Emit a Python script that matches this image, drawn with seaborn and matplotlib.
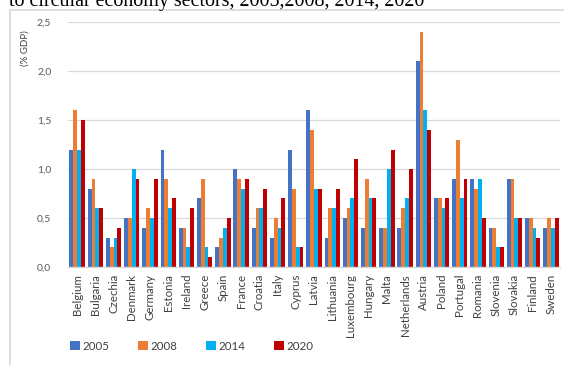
import numpy as np
import pandas as pd
import seaborn as sns
import matplotlib.pyplot as plt
from matplotlib.patches import Rectangle
from matplotlib.ticker import FuncFormatter

countries = ["Belgium", "Bulgaria", "Czechia", "Denmark", "Germany", "Estonia",
             "Ireland", "Greece", "Spain", "France", "Croatia", "Italy", "Cyprus",
             "Latvia", "Lithuania", "Luxembourg", "Hungary", "Malta", "Netherlands",
             "Austria", "Poland", "Portugal", "Romania", "Slovenia", "Slovakia",
             "Finland", "Sweden"]
years = ["2005", "2008", "2014", "2020"]
v2005 = [1.2, 0.8, 0.3, 0.5, 0.4, 1.2, 0.4, 0.7, 0.2, 1.0, 0.4, 0.3, 1.2, 1.6,
         0.3, 0.5, 0.4, 0.4, 0.4, 2.1, 0.7, 0.9, 0.9, 0.4, 0.9, 0.5, 0.4]
v2008 = [1.6, 0.9, 0.2, 0.5, 0.6, 0.9, 0.4, 0.9, 0.3, 0.9, 0.6, 0.5, 0.8, 1.4,
         0.6, 0.6, 0.9, 0.4, 0.6, 2.4, 0.7, 1.3, 0.8, 0.4, 0.9, 0.5, 0.5]
v2014 = [1.2, 0.6, 0.3, 1.0, 0.5, 0.6, 0.2, 0.2, 0.4, 0.8, 0.6, 0.4, 0.2, 0.8,
         0.6, 0.7, 0.7, 1.0, 0.7, 1.6, 0.6, 0.7, 0.9, 0.2, 0.5, 0.4, 0.4]
v2020 = [1.5, 0.6, 0.4, 0.9, 0.9, 0.7, 0.6, 0.1, 0.5, 0.9, 0.8, 0.7, 0.2, 0.8,
         0.8, 1.1, 0.7, 1.2, 1.0, 1.4, 0.7, 0.9, 0.5, 0.2, 0.5, 0.3, 0.5]
colors = ["#4472C4", "#ED7D31", "#00B0F0", "#C00000"]

df = pd.DataFrame({
    "country": countries * len(years),
    "year": np.repeat(years, len(countries)),
    "value": v2005 + v2008 + v2014 + v2020,
})

sns.set_theme(style="white")
plt.rcParams["font.family"] = ["Lato", "DejaVu Sans"]

fig = plt.figure(figsize=(5.64, 3.65), dpi=100)
ax = fig.add_axes([68 / 564, 1 - 267 / 365, 492 / 564, (267 - 22.3) / 365])

sns.barplot(data=df, x="country", y="value", hue="year", hue_order=years,
            palette=colors, saturation=1, width=0.84, linewidth=0, ax=ax)

ax.set_xlim(-0.5, len(countries) - 0.5)
ax.set_ylim(0, 2.5)
ax.set_yticks([0, 0.5, 1.0, 1.5, 2.0, 2.5])
ax.yaxis.set_major_formatter(FuncFormatter(lambda v, p: f"{v:.1f}".replace(".", ",")))
ax.grid(axis="y", color="#d9d9d9", linewidth=0.9)
ax.set_axisbelow(True)
for s in ["top", "right", "left"]:
    ax.spines[s].set_visible(False)
ax.spines["bottom"].set_color("#d9d9d9")
ax.spines["bottom"].set_linewidth(1.0)
ax.tick_params(axis="both", length=0)
ax.tick_params(axis="y", labelsize=7.5, labelcolor="#595959", pad=12)
ax.tick_params(axis="x", labelsize=8.3, labelcolor="#404040", pad=5)
plt.setp(ax.get_xticklabels(), rotation=90)
ax.set_xlabel("")
ax.set_ylabel("")

fig.text(25 / 564, 1 - 48 / 365, "(% GDP)", rotation=90, fontsize=7,
         color="#404040", ha="center", va="center")

handles, labels = ax.get_legend_handles_labels()
ax.get_legend().remove()
fig.legend(handles, labels, loc="center left", bbox_to_anchor=(60 / 564, 1 - 346 / 365),
           ncol=4, frameon=False, fontsize=8.3, handlelength=0.85, handleheight=0.85,
           handletextpad=0.2, columnspacing=2.5, labelcolor="#404040")

# outer chart frame
fig.patches.append(Rectangle((9.5 / 564, -0.1), 1.2, 1.1 - 10 / 365,
                             transform=fig.transFigure, fill=False,
                             edgecolor="#d9d9d9", linewidth=1.2))

fig.text(9 / 564, 1 - 6 / 365,
         "to circular economy sectors, 2005,2008, 2014, 2020",
         fontsize=14.4, family=["Liberation Serif", "DejaVu Serif"],
         color="black", ha="left", va="baseline")

fig.savefig("out.png", dpi=100)
